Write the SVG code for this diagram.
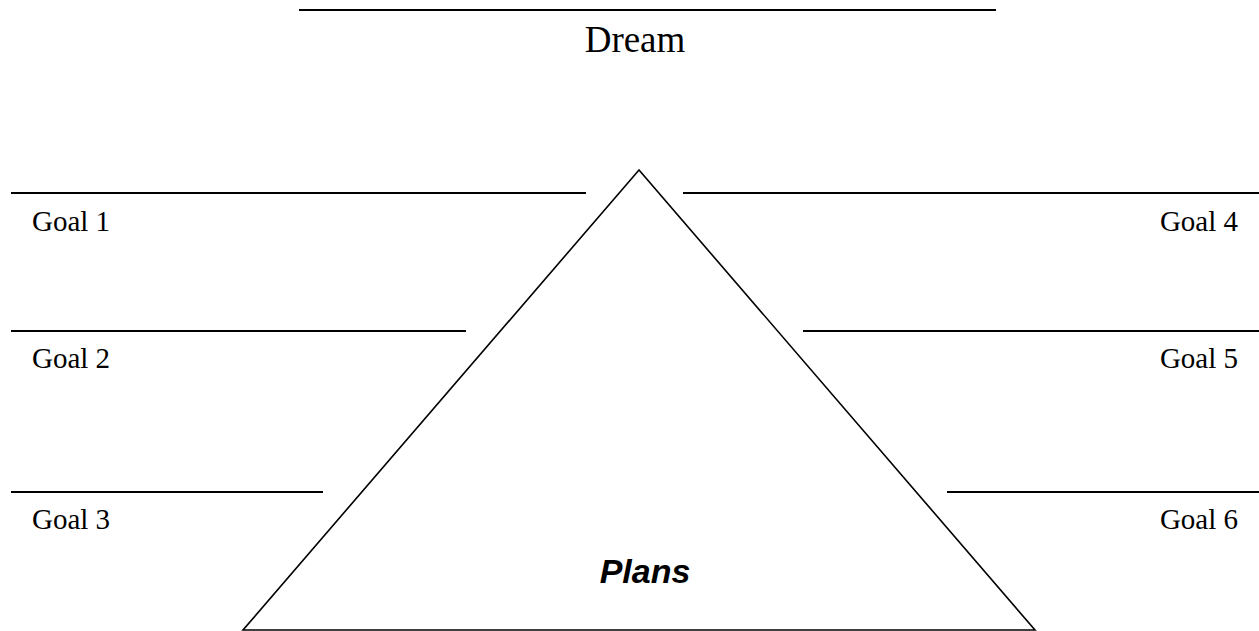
<svg xmlns="http://www.w3.org/2000/svg" width="1259" height="631" viewBox="0 0 1259 631">
<style>
.ln{stroke:#000;stroke-width:2;fill:none}
.tri{stroke:#000;stroke-width:1.6;fill:#fff;stroke-linejoin:miter}
.g{font-family:"Liberation Serif","Times New Roman",serif;font-size:29px;fill:#000}
.d{font-family:"Liberation Serif","Times New Roman",serif;font-size:37px;fill:#000}
.p{font-family:"Liberation Sans",Arial,sans-serif;font-size:34px;font-weight:bold;font-style:italic;fill:#000}
</style>
<rect width="1259" height="631" fill="#fff"/>
<g id="dream">
<line class="ln" x1="299" y1="10" x2="996" y2="10"/>
<text class="d" x="635" y="52" text-anchor="middle">Dream</text>
</g>
<g id="plans">
<polygon class="tri" points="639,170 243,630 1035,630"/>
<text class="p" x="645" y="583" text-anchor="middle">Plans</text>
</g>
<g id="goal1">
<line class="ln" x1="11" y1="193" x2="586" y2="193"/>
<text class="g" x="32" y="231">Goal 1</text>
</g>
<g id="goal2">
<line class="ln" x1="11" y1="331" x2="466" y2="331"/>
<text class="g" x="32" y="368">Goal 2</text>
</g>
<g id="goal3">
<line class="ln" x1="11" y1="492" x2="323" y2="492"/>
<text class="g" x="32" y="529">Goal 3</text>
</g>
<g id="goal4">
<line class="ln" x1="683" y1="193" x2="1259" y2="193"/>
<text class="g" x="1238" y="231" text-anchor="end">Goal 4</text>
</g>
<g id="goal5">
<line class="ln" x1="803" y1="331" x2="1259" y2="331"/>
<text class="g" x="1238" y="368" text-anchor="end">Goal 5</text>
</g>
<g id="goal6">
<line class="ln" x1="947" y1="492" x2="1259" y2="492"/>
<text class="g" x="1238" y="529" text-anchor="end">Goal 6</text>
</g>
<g id="connectors"></g>
</svg>
